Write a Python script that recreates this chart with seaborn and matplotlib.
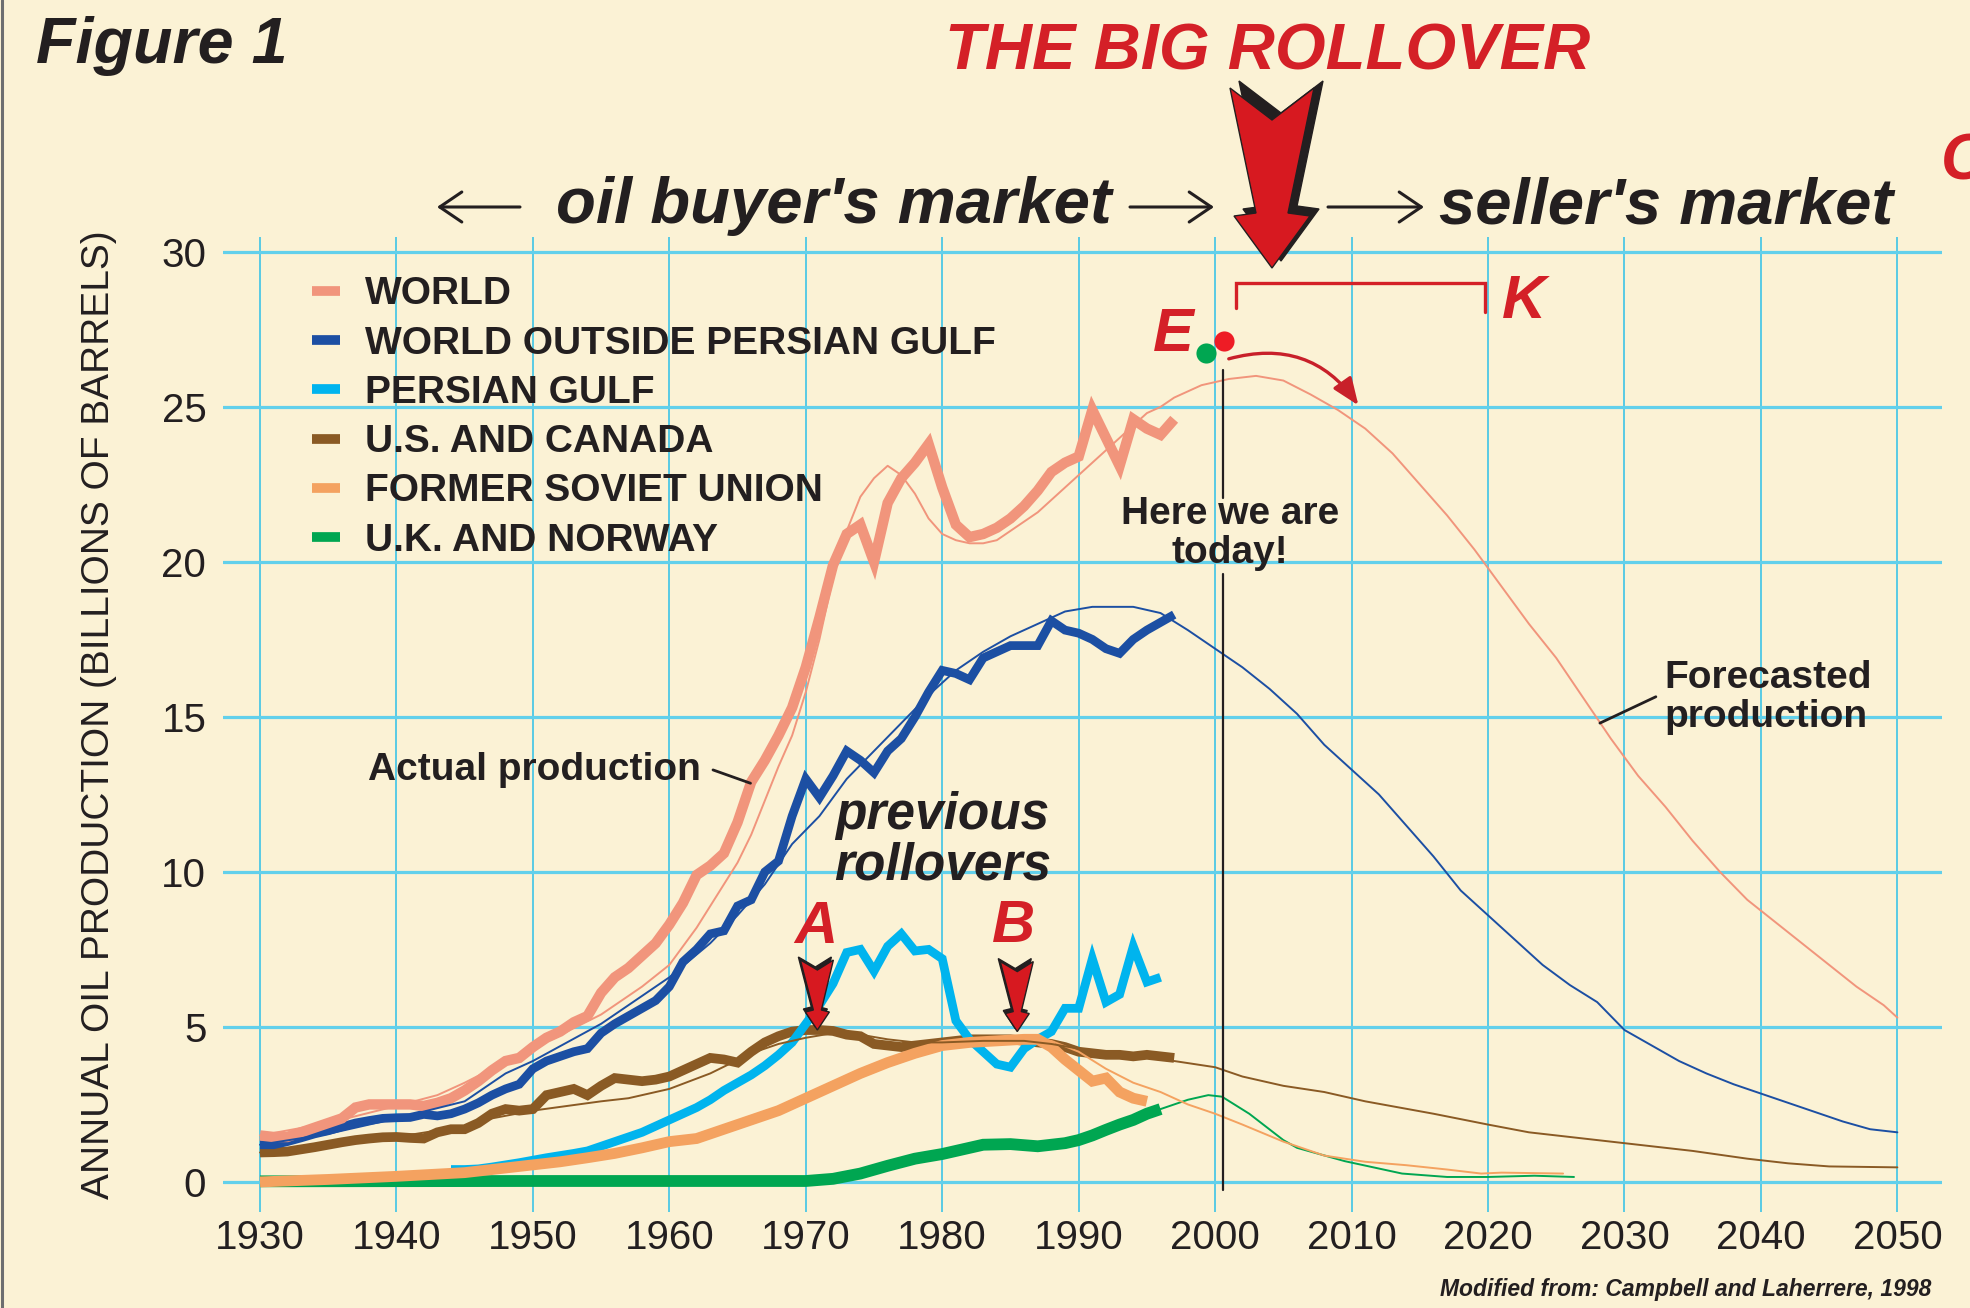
import matplotlib
matplotlib.use('Agg')
import matplotlib.pyplot as plt
import matplotlib.patches as mpatches
import matplotlib.transforms as mtransforms
from matplotlib.lines import Line2D
import pandas as pd
import seaborn as sns

W, H = 1970, 1308
BG = '#FBF2D5'
INK = '#231F20'
RED = '#D42027'

c_world = '#F1957C'
c_outside = '#1C4FA3'
c_gulf = '#00B4EE'
c_usc = '#8A5A24'
c_fsu = '#F4A260'
c_ukn = '#00A651'

# ---- actual production (thick lines) ----
world_years = list(range(1930, 1998))
world = [1.5, 1.45, 1.45, 1.6, 1.75, 1.9, 2.05, 2.4, 2.5, 2.5,
         2.5, 2.5, 2.45, 2.55, 2.7, 2.95, 3.25, 3.6, 3.9, 4.0,
         4.35, 4.65, 4.85, 5.15, 5.35, 6.1, 6.6, 6.9, 7.3, 7.7,
         8.3, 9.0, 9.9, 10.2, 10.6, 11.6, 12.9, 13.6, 14.4, 15.3,
         16.6, 18.2, 19.9, 20.9, 21.2, 20.0, 21.9, 22.7, 23.2, 23.8,
         22.4, 21.2, 20.8, 20.9, 21.1, 21.4, 21.8, 22.3, 22.9, 23.2,
         23.4, 24.9, 24.0, 23.1, 24.6, 24.3, 24.1, 24.6]

outside_years = list(range(1930, 1998))
outside = [1.2, 1.2, 1.3, 1.42, 1.55, 1.65, 1.78, 1.9, 1.98, 2.05,
           2.07, 2.08, 2.18, 2.13, 2.2, 2.35, 2.55, 2.8, 3.0, 3.15,
           3.65, 3.9, 4.05, 4.2, 4.3, 4.8, 5.1, 5.35, 5.6, 5.85,
           6.3, 7.1, 7.5, 8.0, 8.1, 8.9, 9.1, 10.0, 10.35, 11.8,
           13.0, 12.4, 13.1, 13.9, 13.6, 13.2, 13.9, 14.3, 15.0, 15.8,
           16.5, 16.4, 16.2, 16.9, 17.1, 17.3, 17.3, 17.3, 18.1, 17.8,
           17.7, 17.5, 17.2, 17.05, 17.5, 17.8, 18.05, 18.3]

gulf_years = list(range(1944, 1997))
gulf = [0.4, 0.4, 0.42, 0.48, 0.55, 0.62, 0.7, 0.78, 0.85, 0.92,
        1.0, 1.15, 1.3, 1.45, 1.6, 1.8, 2.0, 2.2, 2.4, 2.65,
        2.95, 3.2, 3.45, 3.75, 4.1, 4.5, 5.1, 5.7, 6.4, 7.4,
        7.5, 6.8, 7.6, 8.0, 7.45, 7.5, 7.2, 5.2, 4.6, 4.2,
        3.8, 3.7, 4.3, 4.6, 4.85, 5.6, 5.6, 7.2, 5.8, 6.05,
        7.6, 6.45, 6.6]

usc_years = list(range(1930, 1998))
usc = [0.95, 0.96, 0.98, 1.05, 1.12, 1.2, 1.28, 1.35, 1.4, 1.44,
       1.45, 1.42, 1.4, 1.6, 1.7, 1.7, 1.9, 2.2, 2.35, 2.3,
       2.35, 2.8, 2.9, 3.0, 2.8, 3.1, 3.35, 3.3, 3.25, 3.3,
       3.4, 3.6, 3.8, 4.0, 3.95, 3.85, 4.2, 4.5, 4.7, 4.85,
       4.9, 4.9, 4.87, 4.75, 4.7, 4.45, 4.4, 4.35, 4.4, 4.45,
       4.5, 4.55, 4.6, 4.6, 4.6, 4.6, 4.55, 4.5, 4.45, 4.35,
       4.2, 4.15, 4.1, 4.1, 4.05, 4.1, 4.05, 4.0]

fsu_years = [1930, 1935, 1940, 1945, 1948, 1950, 1952, 1954, 1956, 1958,
             1960, 1962, 1964, 1966, 1968, 1970, 1972, 1974, 1976, 1978,
             1980, 1982, 1984, 1986, 1987, 1988, 1989, 1990, 1991, 1992,
             1993, 1994, 1995]
fsu = [0.0, 0.08, 0.18, 0.3, 0.45, 0.55, 0.65, 0.78, 0.92, 1.1,
       1.3, 1.4, 1.7, 2.0, 2.3, 2.7, 3.1, 3.5, 3.85, 4.15,
       4.4, 4.5, 4.55, 4.6, 4.6, 4.35, 3.95, 3.6, 3.25, 3.35,
       2.9, 2.7, 2.6]

ukn_years = [1930, 1950, 1970, 1972, 1974, 1976, 1978, 1980, 1982, 1983,
             1985, 1987, 1989, 1990, 1991, 1992, 1993, 1994, 1995, 1996]
ukn = [0.02, 0.03, 0.03, 0.1, 0.27, 0.52, 0.75, 0.9, 1.1, 1.2,
       1.22, 1.15, 1.25, 1.35, 1.5, 1.68, 1.85, 2.0, 2.2, 2.35]

# ---- fitted / forecasted production (thin lines) ----
world_fit_years = [1930, 1935, 1940, 1943, 1945, 1947, 1950, 1955, 1958, 1960,
                   1962, 1964, 1965, 1966, 1967, 1968, 1969, 1970, 1971, 1972,
                   1973, 1974, 1975, 1976, 1977, 1978, 1979, 1980, 1981, 1982,
                   1983, 1984, 1985, 1986, 1987, 1988, 1989, 1990, 1991, 1992,
                   1993, 1994, 1995, 1996, 1997, 1998, 1999, 2000, 2001, 2003,
                   2005, 2007, 2009, 2011, 2013, 2015, 2017, 2019, 2021, 2023,
                   2025, 2027, 2029, 2031, 2033, 2035, 2037, 2039, 2041, 2043,
                   2045, 2047, 2049, 2050]
world_fit = [1.5, 1.9, 2.45, 2.8, 3.2, 3.65, 4.3, 5.4, 6.3, 7.0,
             8.2, 9.6, 10.3, 11.2, 12.3, 13.4, 14.4, 15.8, 17.5, 19.5,
             21.0, 22.1, 22.7, 23.1, 22.8, 22.2, 21.4, 20.9, 20.7, 20.6,
             20.6, 20.7, 21.0, 21.3, 21.6, 22.0, 22.4, 22.8, 23.2, 23.6,
             24.0, 24.4, 24.8, 25.0, 25.3, 25.5, 25.7, 25.8, 25.9, 26.0,
             25.85, 25.4, 24.9, 24.3, 23.5, 22.5, 21.5, 20.4, 19.2, 18.0,
             16.9, 15.6, 14.3, 13.1, 12.1, 11.0, 10.0, 9.1, 8.4, 7.7,
             7.0, 6.3, 5.7, 5.3]

outside_fit_years = [1930, 1935, 1940, 1945, 1948, 1950, 1955, 1960, 1963, 1965,
                     1967, 1969, 1971, 1973, 1975, 1977, 1979, 1981, 1983, 1985,
                     1987, 1989, 1991, 1994, 1996, 1998, 2000, 2002, 2004, 2006,
                     2008, 2010, 2012, 2014, 2016, 2018, 2020, 2022, 2024, 2026,
                     2028, 2030, 2032, 2034, 2036, 2038, 2040, 2042, 2044, 2046,
                     2048, 2050]
outside_fit = [1.2, 1.55, 2.05, 2.6, 3.5, 3.9, 5.1, 6.6, 7.7, 8.6,
               9.6, 10.9, 11.8, 13.0, 13.9, 14.8, 15.7, 16.5, 17.1, 17.6,
               18.0, 18.4, 18.55, 18.55, 18.35, 17.8, 17.2, 16.6, 15.9, 15.1,
               14.1, 13.3, 12.5, 11.5, 10.5, 9.4, 8.6, 7.8, 7.0, 6.35,
               5.8, 4.9, 4.4, 3.9, 3.5, 3.15, 2.85, 2.55, 2.25, 1.95,
               1.7, 1.6]

usc_fit_years = [1930, 1935, 1940, 1945, 1947, 1950, 1955, 1957, 1960, 1963,
                 1966, 1968, 1970, 1972, 1974, 1976, 1978, 1980, 1983, 1986,
                 1988, 1990, 1993, 1995, 1997, 2000, 2002, 2005, 2008, 2011,
                 2016, 2020, 2023, 2027, 2031, 2035, 2039, 2042, 2045, 2050]
usc_fit = [0.95, 1.2, 1.45, 1.8, 2.05, 2.3, 2.6, 2.7, 3.0, 3.5,
           4.15, 4.45, 4.65, 4.8, 4.75, 4.6, 4.5, 4.5, 4.55, 4.55,
           4.45, 4.3, 4.1, 4.0, 3.9, 3.7, 3.4, 3.1, 2.9, 2.6,
           2.2, 1.85, 1.6, 1.4, 1.2, 1.0, 0.75, 0.6, 0.5, 0.47]

fsu_fit_years = [1984, 1986, 1988, 1990, 1992, 1994, 1996, 1998, 2000, 2002,
                 2005, 2008, 2011, 2014, 2017, 2019.5, 2021, 2025.5]
fsu_fit = [4.55, 4.7, 4.55, 4.2, 3.65, 3.2, 2.9, 2.5, 2.2, 1.85,
           1.3, 0.85, 0.65, 0.54, 0.4, 0.27, 0.3, 0.27]

ukn_fit_years = [1996, 1998, 1999.5, 2000.5, 2002.5, 2005, 2006, 2009.5, 2013.7, 2017,
                 2020, 2023.4, 2026.3]
ukn_fit = [2.35, 2.65, 2.8, 2.75, 2.2, 1.35, 1.1, 0.67, 0.27, 0.16,
           0.16, 0.2, 0.16]

legend_labels = ['WORLD', 'WORLD OUTSIDE PERSIAN GULF', 'PERSIAN GULF',
                 'U.S. AND CANADA', 'FORMER SOVIET UNION', 'U.K. AND NORWAY']
legend_colors = [c_world, c_outside, c_gulf, c_usc, c_fsu, c_ukn]

x_ticks = list(range(1930, 2051, 10))
y_ticks = [0, 5, 10, 15, 20, 25, 30]

sns.set_style('white', {'axes.facecolor': BG, 'figure.facecolor': BG})
plt.rcParams['font.family'] = ['Liberation Sans', 'DejaVu Sans']

fig = plt.figure(figsize=(W / 100, H / 100), dpi=100, facecolor=BG)
ax = fig.add_axes([223 / W, 1 - 1212 / H, (1942 - 223) / W, (1212 - 237) / H])
ax.set_facecolor(BG)
ax.set_xlim(1927.29, 2053.27)
ax.set_ylim(-0.97, 30.48)
for s in ax.spines.values():
    s.set_visible(False)

ax.set_xticks(x_ticks)
ax.set_yticks(y_ticks)
ax.set_axisbelow(True)
ax.grid(axis='y', color='#62D0EB', lw=2.3)
ax.grid(axis='x', color='#2CC0E8', lw=1.1)
ax.tick_params(axis='both', length=0, labelsize=29, labelcolor=INK)
ax.tick_params(axis='y', pad=12)
ax.tick_params(axis='x', pad=5)

thick = [
    (ukn_years, ukn, c_ukn, 8.5, 3),
    (usc_years, usc, c_usc, 7.0, 4),
    (gulf_years, gulf, c_gulf, 6.3, 5),
    (fsu_years, fsu, c_fsu, 7.8, 6),
    (outside_years, outside, c_outside, 6.3, 7),
    (world_years, world, c_world, 7.5, 8),
]
for xs, ys, col, lw, z in thick:
    df = pd.DataFrame({'year': xs, 'value': ys})
    sns.lineplot(data=df, x='year', y='value', ax=ax, color=col, linewidth=lw,
                 estimator=None, sort=False, legend=False, zorder=z,
                 solid_capstyle='butt', solid_joinstyle='miter')

thin = [
    (ukn_fit_years, ukn_fit, c_ukn),
    (fsu_fit_years, fsu_fit, c_fsu),
    (usc_fit_years, usc_fit, c_usc),
    (outside_fit_years, outside_fit, c_outside),
    (world_fit_years, world_fit, c_world),
]
for xs, ys, col in thin:
    df = pd.DataFrame({'year': xs, 'value': ys})
    sns.lineplot(data=df, x='year', y='value', ax=ax, color=col, linewidth=1.4,
                 estimator=None, sort=False, legend=False, zorder=9)
ax.set_xlabel('')
ax.set_ylabel('')

# legend
handles = [Line2D([0], [0], color=c, lw=7, solid_capstyle='butt') for c in legend_colors]
leg = ax.legend(handles, legend_labels, loc='upper left', bbox_to_anchor=(0.0518, 0.9595),
                frameon=False, handlelength=0.72, handletextpad=0.64, borderpad=0,
                borderaxespad=0, labelspacing=0.34,
                prop={'family': 'Liberation Sans', 'weight': 'bold', 'size': 28})
for t in leg.get_texts():
    t.set_color(INK)
leg.set_zorder(20)

# y label
ax.text(-0.072, 0.51, 'ANNUAL OIL PRODUCTION (BILLIONS OF BARRELS)', transform=ax.transAxes,
        rotation=90, ha='center', va='center', fontsize=28, color=INK)

# "today" line with gap for the text
ax.plot([2000.6, 2000.6], [26.2, 22.05], color=INK, lw=1.6, zorder=10)
ax.plot([2000.6, 2000.6], [19.6, -0.25], color=INK, lw=1.6, zorder=10, clip_on=False)
ax.text(2001.1, 19.97, 'Here we are\ntoday!', ha='center', va='baseline', fontsize=28,
        fontweight='bold', color=INK, linespacing=1.1, zorder=12)

# annotations
ax.text(1950.1, 12.97, 'Actual production', ha='center', va='baseline', fontsize=28,
        fontweight='bold', color=INK, zorder=12)
ax.plot([1963.2, 1965.95], [13.29, 12.86], color=INK, lw=2, zorder=12)
ax.text(2032.9, 14.68, 'Forecasted\nproduction', ha='left', va='baseline', fontsize=28,
        fontweight='bold', color=INK, linespacing=1.1, zorder=12)
ax.plot([2028.2, 2032.3], [14.8, 15.65], color=INK, lw=2, zorder=12)
ax.text(1980.0, 9.74, 'previous\nrollovers', ha='center', va='baseline', fontsize=37,
        fontweight='bold', fontstyle='italic', color=INK, linespacing=1.04, zorder=12)

ax.text(1970.7, 7.7, 'A', ha='center', va='baseline', fontsize=43, fontweight='bold',
        fontstyle='italic', color=RED, zorder=12)
ax.text(1985.25, 7.74, 'B', ha='center', va='baseline', fontsize=43, fontweight='bold',
        fontstyle='italic', color=RED, zorder=12)
ax.text(1996.9, 26.8, 'E', ha='center', va='baseline', fontsize=44, fontweight='bold',
        fontstyle='italic', color=RED, zorder=12)
ax.text(2022.6, 27.87, 'K', ha='center', va='baseline', fontsize=44, fontweight='bold',
        fontstyle='italic', color=RED, zorder=12)
ax.plot([2001.5, 2001.5, 2019.8, 2019.8], [28.2, 29.0, 29.0, 28.05], color=RED, lw=2.4,
        solid_joinstyle='miter', zorder=12)
ax.plot([1999.3], [26.75], 'o', ms=14.5, color='#00A651', mec='none', zorder=13)
ax.plot([2000.65], [27.13], 'o', ms=14.5, color='#EE1C25', mec='none', zorder=13)
ax.annotate('', xy=(2010.5, 25.05), xytext=(2001.0, 26.55),
            arrowprops=dict(arrowstyle='-|>,head_length=0.55,head_width=0.22', color='#C8202A',
                            lw=2.4, mutation_scale=30, shrinkA=0, shrinkB=0,
                            connectionstyle='arc3,rad=-0.35'), zorder=13)


def draw_arrow(tip, shape, shadow):
    # tip in display pixels (origin bottom-left); shape offsets with y pointing down
    pts = [(tip[0] + dx, tip[1] - dy) for dx, dy in shape]
    sh = [(x + shadow[0], y - shadow[1]) for x, y in pts]
    fig.add_artist(mpatches.Polygon(sh, closed=True, facecolor=INK, edgecolor=INK, lw=1,
                                    transform=mtransforms.IdentityTransform(), zorder=30))
    fig.add_artist(mpatches.Polygon(pts, closed=True, facecolor='#D71920', edgecolor=INK, lw=1,
                                    transform=mtransforms.IdentityTransform(), zorder=31))


small_shape = [(-17, -70), (0, -60), (16, -70), (4, -20), (12, -18), (0, 0), (-12, -18), (-4, -20)]
for tx, ty in [(1970.85, 4.9), (1985.5, 4.85)]:
    p = ax.transData.transform((tx, ty))
    draw_arrow(p, small_shape, (-2, -3))

big_shape = [(-42, -180), (0, -148), (42, -180), (16, -55), (38, -52), (0, 0), (-38, -52), (-16, -55)]
draw_arrow((1272, H - 268), big_shape, (9, -7))


def fx(x):
    return x / W


def fy(y):
    return 1 - y / H


fig.text(fx(36), fy(63), 'Figure 1', ha='left', va='baseline', fontsize=46.5,
         fontweight='bold', fontstyle='italic', color=INK)
fig.text(fx(1268), fy(70), 'THE BIG ROLLOVER', ha='center', va='baseline', fontsize=47,
         fontweight='bold', fontstyle='italic', color=RED)
fig.text(fx(834), fy(223), "oil buyer's market", ha='center', va='baseline', fontsize=47,
         fontweight='bold', fontstyle='italic', color=INK)
fig.text(fx(1439), fy(223), "seller's market", ha='left', va='baseline', fontsize=47,
         fontweight='bold', fontstyle='italic', color=INK)
fig.text(fx(1941), fy(162), 'C', ha='left', va='center', fontsize=46,
         fontweight='bold', fontstyle='italic', color=RED)
fig.text(fx(1931), fy(1296), 'Modified from: Campbell and Laherrere, 1998', ha='right',
         va='baseline', fontsize=16.5, fontweight='bold', fontstyle='italic', color=INK)

for x0, x1 in [(520, 437), (1130, 1214), (1328, 1424)]:
    ax.annotate('', xy=(fx(x1), fy(207)), xytext=(fx(x0), fy(207)), xycoords='figure fraction',
                textcoords='figure fraction',
                arrowprops=dict(arrowstyle='->,head_length=0.53,head_width=0.36', color=INK,
                                lw=2.2, mutation_scale=30, shrinkA=0, shrinkB=0))

fig.add_artist(Line2D([1.5 / W, 1.5 / W], [0, 1], transform=fig.transFigure,
                      color='#6D6E70', lw=2.2))

fig.savefig('out.png', dpi=100, facecolor=BG)
